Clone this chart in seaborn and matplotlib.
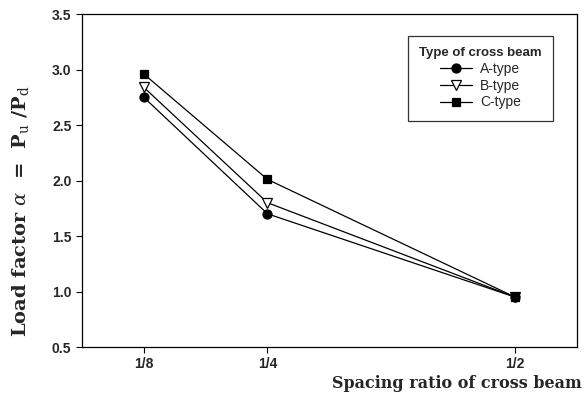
import numpy as np
import pandas as pd
import matplotlib
matplotlib.use("Agg")
import matplotlib.pyplot as plt
import seaborn as sns

# spacing ratio of cross beam
spacing = [1 / 8, 1 / 4, 1 / 2]
tick_labels = ["1/8", "1/4", "1/2"]

a_type = [2.75, 1.70, 0.95]
b_type = [2.84, 1.80, 0.95]
c_type = [2.96, 2.01, 0.95]

series_names = ["A-type", "B-type", "C-type"]


def build_frame():
    rows = []
    for name, vals in zip(series_names, [a_type, b_type, c_type]):
        for s, v in zip(spacing, vals):
            rows.append({"spacing": s, "alpha": v, "type": name})
    return pd.DataFrame(rows)


def main():
    sns.set_style("ticks")
    plt.rcParams["font.family"] = ["Liberation Sans", "DejaVu Sans"]
    plt.rcParams["mathtext.fontset"] = "dejavuserif"
    df = build_frame()

    fig = plt.figure(figsize=(5.85, 3.95), dpi=100)
    ax = fig.add_axes([0.140, 0.1215, 0.846, 0.843])

    styles = {
        "A-type": dict(marker="o", mfc="black", ms=6.5),
        "B-type": dict(marker="v", mfc="white", ms=6.5),
        "C-type": dict(marker="s", mfc="black", ms=6),
    }
    for name in series_names:
        sub = df[df["type"] == name]
        st = styles[name]
        sns.lineplot(data=sub, x="spacing", y="alpha", ax=ax, color="black",
                     linewidth=0.9, marker=st["marker"], markersize=st["ms"],
                     markerfacecolor=st["mfc"], markeredgecolor="black",
                     markeredgewidth=0.9, label=name)

    ax.set_xlim(0.0625, 0.5625)
    ax.set_ylim(0.5, 3.5)
    ax.set_xticks(spacing)
    ax.set_xticklabels(tick_labels)
    ax.set_yticks(np.arange(0.5, 3.51, 0.5))
    ax.set_yticklabels([f"{v:.1f}" for v in np.arange(0.5, 3.51, 0.5)])
    ax.tick_params(direction="out", length=4.5, width=0.8, color="black",
                   labelsize=10, pad=3)
    ax.tick_params(axis="x", pad=3)
    for lbl in ax.get_xticklabels() + ax.get_yticklabels():
        lbl.set_fontweight("bold")
    for sp in ax.spines.values():
        sp.set_visible(True)
        sp.set_color("black")
        sp.set_linewidth(0.9)

    ax.set_xlabel("")
    ax.set_ylabel("")
    fig.text(0.995, 0.008, "Spacing ratio of cross beam", ha="right", va="bottom",
             fontfamily="DejaVu Serif", fontweight="bold", fontsize=11.5)
    fig.text(0.035, 0.465, r"Load factor $\alpha$  =  P$_\mathrm{u}$ /P$_\mathrm{d}$",
             rotation=90, ha="center", va="center",
             fontfamily="DejaVu Serif", fontweight="bold", fontsize=14)

    leg = ax.legend(title="Type of cross beam", loc="upper right",
                    bbox_to_anchor=(0.951, 0.934), frameon=True, fancybox=False,
                    edgecolor="black", fontsize=10, title_fontproperties={
                        "family": "Liberation Sans", "weight": "bold", "size": 9.5},
                    handlelength=2.3, handletextpad=0.6, borderpad=0.8,
                    labelspacing=0.2, borderaxespad=0)
    leg.get_frame().set_linewidth(0.9)

    fig.savefig("out.png", dpi=100)


if __name__ == "__main__":
    main()
